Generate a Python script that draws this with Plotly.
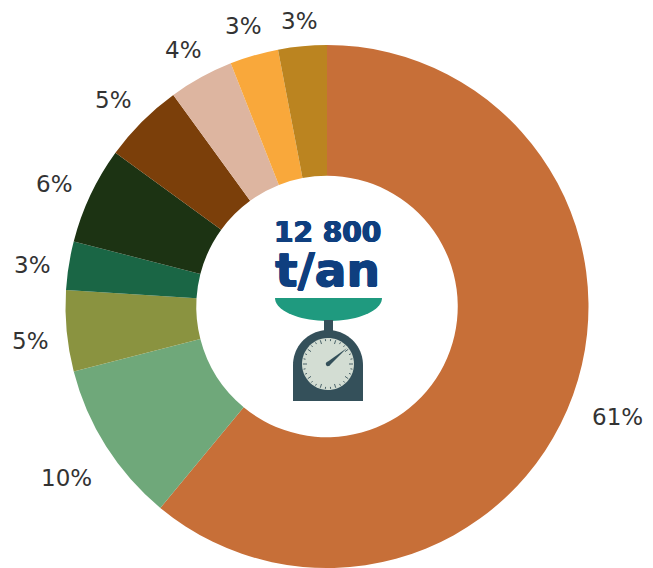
import numpy as np
import plotly.graph_objects as go

W, H = 653, 568
labels = ["A", "B", "C", "D", "E", "F", "G", "H", "I"]
values = [61, 10, 5, 3, 6, 5, 4, 3, 3]
colors = ["#C76F38", "#6FA87A", "#8A9340", "#1A6645", "#1C3313", "#7B3F0A", "#DDB5A0", "#F9A83B", "#BB8420"]
total_label = "12 800"
unit_label = "t/an"
# distance in pixels from the pie centre to each percentage label, and fine nudges
label_radius = [310, 311, 299, 298, 299, 298, 295, 293, 288]
label_dx = [-1, 2, 1, 0, -2, -3, -1, -2, 0]
label_dy = [5, 5, 6, 5, 5, 4, 2, 1, 1]

def X(p):
    return p / W

def Y(p):
    return 1 - p / H

def path(points, close=True):
    s = "M " + " L ".join(f"{X(x):.5f},{Y(y):.5f}" for x, y in points)
    return s + (" Z" if close else "")

def arc(cx, cy, rx, ry, a0, a1, n=40):
    t = np.radians(np.linspace(a0, a1, n))
    return [(cx + rx * np.cos(a), cy + ry * np.sin(a)) for a in t]

fig = go.Figure(go.Pie(
    labels=labels, values=values, sort=False, direction="clockwise", rotation=0,
    hole=0.5, marker=dict(colors=colors, line=dict(width=0)),
    textinfo="none",
    domain=dict(x=[X(327 - 262), X(327 + 262)], y=[0, Y(45)]),
    showlegend=False, hoverinfo="skip",
))

cx, cy = 328, 364
shapes = []
shapes.append(dict(type="path", path=path([(275, 298), (382, 298)] + arc(328.5, 298, 53.5, 23, 0, 180)),
                   fillcolor="#1F9A7F", line_width=0, xref="paper", yref="paper"))
shapes.append(dict(type="path", path=path([(324, 320), (333, 320), (333, 332), (324, 332)]),
                   fillcolor="#34505A", line_width=0, xref="paper", yref="paper"))
shapes.append(dict(type="path", path=path([(293, 401), (293, 365)] + arc(328, 365, 35, 35, 180, 360) + [(363, 401)]),
                   fillcolor="#34505A", line_width=0, xref="paper", yref="paper"))
shapes.append(dict(type="path", path=path(arc(cx, cy, 26, 26, 0, 360, 60)),
                   fillcolor="#D3DDD3", line_width=0, xref="paper", yref="paper"))
for a in np.arange(0, 360, 12):
    r0, r1 = (21, 25) if a % 36 == 0 else (23, 25)
    c, s = np.cos(np.radians(a)), np.sin(np.radians(a))
    shapes.append(dict(type="path", path=path([(cx + r0 * c, cy + r0 * s), (cx + r1 * c, cy + r1 * s)], close=False),
                       line=dict(color="#4A6268", width=1), xref="paper", yref="paper"))
shapes.append(dict(type="path", path=path([(cx - 1.5, cy - 1.5), (347, 348), (cx + 1.5, cy + 1.5)]),
                   fillcolor="#34505A", line_width=0, xref="paper", yref="paper"))
shapes.append(dict(type="path", path=path(arc(cx, cy, 2.2, 2.2, 0, 360, 16)),
                   fillcolor="#34505A", line_width=0, xref="paper", yref="paper"))

heavy = "0.7px 0 0 #0F3F7F, -0.7px 0 0 #0F3F7F, 0 0.4px 0 #0F3F7F, 0 -0.4px 0 #0F3F7F"
centre_text = (f'<b><span style="font-size:28px">{total_label}</span><br>'
               f'<span style="font-size:47px">{unit_label}</span></b>')
annotations = [
    dict(x=X(328), y=Y(256), xref="paper", yref="paper", text=centre_text, showarrow=False,
         font=dict(family="DejaVu Sans", size=34, color="#0F3F7F", shadow=heavy),
         xanchor="center", yanchor="middle", align="center"),
]

# percentage labels placed at each slice's mid-angle, computed from the values
cum = 0
tot = sum(values)
for v, r, dx, dy in zip(values, label_radius, label_dx, label_dy):
    mid = np.radians((cum + v / 2) / tot * 360)
    cum += v
    annotations.append(dict(
        x=X(327 + r * np.sin(mid) + dx), y=Y(306.5 - r * np.cos(mid) + dy), xref="paper", yref="paper",
        text=f"{v}%", showarrow=False, xanchor="center", yanchor="middle",
        font=dict(family="DejaVu Sans", size=23, color="#333333"),
    ))

fig.update_layout(width=W, height=H, margin=dict(l=0, r=0, t=0, b=0), paper_bgcolor="white",
                  plot_bgcolor="white", shapes=shapes, annotations=annotations)
fig.write_html("out.html", config=dict(displayModeBar=False),
               post_script="document.body.style.margin='0';document.body.style.overflow='hidden';")
